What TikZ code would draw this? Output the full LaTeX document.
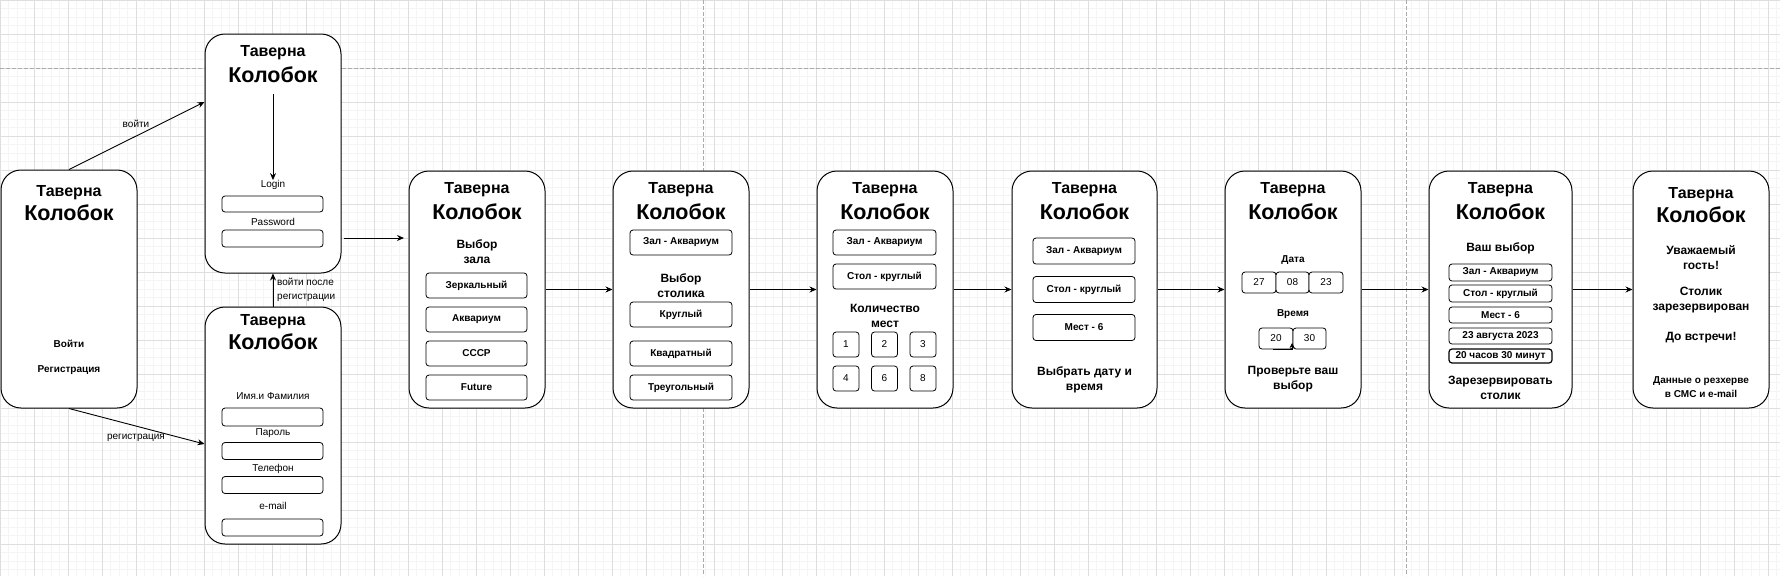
\documentclass[tikz,border=0pt]{standalone}
\usepackage{fontspec}
\setmainfont{Liberation Sans}
\usetikzlibrary{arrows.meta,calc}
\definecolor{gmaj}{HTML}{DEDEDE}
\definecolor{gmin}{HTML}{F4F4F4}
\definecolor{pbrk}{HTML}{ABABAB}
\newcommand{\fs}[2]{\fontsize{#1}{#2}\selectfont}
\tikzset{
  scr/.style={draw, line width=1pt, rounded corners=20, fill=white, minimum width=136, minimum height=237, inner sep=0},
  ttl/.style={font=\fs{16}{18}\bfseries, inner sep=0},
  big/.style={font=\fs{21.5}{24}\bfseries, inner sep=0},
  lbl/.style={font=\fs{10}{14}, inner sep=0, align=center},
  hd/.style={font=\fs{12}{15}\bfseries, inner sep=0, align=center},
  bt/.style={font=\fs{10}{14}\bfseries, inner sep=0, align=center},
  fld/.style={draw, line width=0.8pt, rounded corners=3, fill=white, inner sep=0},
  btn/.style={fld, font=\fs{10}{12}\bfseries},
  num/.style={fld, font=\fs{10}{12}},
  arr/.style={line width=0.9pt, -{Stealth[length=7pt,width=6pt]}},
}
\begin{document}
\begin{tikzpicture}[x=1pt,y=-1pt]
\useasboundingbox (0,0) rectangle (1780,576);
\fill[white] (0,0) rectangle (1780,576);
% grid
\foreach \i in {0,...,210} {\draw[gmin, line width=0.8pt] ({\i*8.5},0) -- ({\i*8.5},576);}
\foreach \j in {0,...,68} {\draw[gmin, line width=0.8pt] (0,{\j*8.5}) -- (1780,{\j*8.5});}
\foreach \i in {0,...,52} {\draw[gmaj, line width=0.8pt] ({\i*34},0) -- ({\i*34},576);}
\foreach \j in {0,...,17} {\draw[gmaj, line width=0.8pt] (0,{\j*34}) -- (1780,{\j*34});}
% page breaks
\draw[pbrk, line width=0.8pt, dash pattern=on 4pt off 2pt] (0,68) -- (1780,68);
\draw[pbrk, line width=0.8pt, dash pattern=on 4pt off 2pt] (703.3,0) -- (703.3,576);
\draw[pbrk, line width=0.8pt, dash pattern=on 4pt off 2pt] (1406.6,0) -- (1406.6,576);

% screens
\node[scr, minimum height=238] (b0) at (69,289) {};
\node[scr, minimum height=239] (b1) at (273,153.5) {};
\node[scr] (b2) at (273,425.5) {};
\node[scr] (b3) at (477,289.5) {};
\node[scr] (b4) at (681,289.5) {};
\node[scr] (b5) at (885,289.5) {};
\node[scr, minimum width=145] (b6) at (1084.5,289.5) {};
\node[scr] (b7) at (1293,289.5) {};
\node[scr, minimum width=143] (b8) at (1500.5,289.5) {};
\node[scr] (b9) at (1701,289.5) {};

% box 0
\node[ttl] (b0t) at (69,193) {Таверна};
\node[big] (b0k) at (69,213) {Колобок};
\node[bt] (b0a) at (69,344) {Войти};
\node[bt] (b0b) at (69,370) {Регистрация};

% box 1 login
\node[ttl] (b1t) at (273,53) {Таверна};
\node[big] (b1k) at (273,75) {Колобок};
\node[lbl] (b1l) at (273,185) {Login};
\node[fld, minimum width=101, minimum height=16] (b1f1) at (272.5,204) {};
\node[lbl] (b1p) at (273,222) {Password};
\node[fld, minimum width=101, minimum height=17] (b1f2) at (272.5,238.5) {};
\coordinate (b1s) at (273,94);
\draw[arr] (b1s) -- (b1l.north);

% box 2 registration
\node[ttl] (b2t) at (273,322) {Таверна};
\node[big] (b2k) at (273,342) {Колобок};
\node[lbl] (b2l1) at (273,396) {Имя.и Фамилия};
\node[fld, minimum width=101, minimum height=18] (b2f1) at (272.5,417) {};
\node[lbl] (b2l2) at (273,433) {Пароль};
\node[fld, minimum width=101, minimum height=17] (b2f2) at (272.5,451) {};
\node[lbl] (b2l3) at (273,469) {Телефон};
\node[fld, minimum width=101, minimum height=17] (b2f3) at (272.5,485) {};
\node[lbl] (b2l4) at (273,506) {e-mail};
\node[fld, minimum width=101, minimum height=17] (b2f4) at (272.5,527.5) {};

% box 3
\node[ttl] (b3t) at (477,190) {Таверна};
\node[big] (b3k) at (477,212) {Колобок};
\node[hd] (b3h) at (477,251.5) {Выбор\\зала};
\node[btn, minimum width=101, minimum height=25] (b3o1) at (476.5,285.5) {Зеркальный};
\node[btn, minimum width=101, minimum height=25] (b3o2) at (476.5,319.5) {Аквариум};
\node[btn, minimum width=101, minimum height=25] (b3o3) at (476.5,353.5) {СССР};
\node[btn, minimum width=101, minimum height=25] (b3o4) at (476.5,387.5) {Future};

% box 4
\node[ttl] (b4t) at (681,190) {Таверна};
\node[big] (b4k) at (681,212) {Колобок};
\node[btn, minimum width=102, minimum height=25] (b4z) at (681,242.5) {Зал - Аквариум};
\node[hd] (b4h) at (681,285.5) {Выбор\\столика};
\node[btn, minimum width=102, minimum height=25] (b4o1) at (681,314.5) {Круглый};
\node[btn, minimum width=102, minimum height=25] (b4o2) at (681,353.5) {Квадратный};
\node[btn, minimum width=102, minimum height=25] (b4o3) at (681,387.5) {Треугольный};

% box 5
\node[ttl] (b5t) at (885,190) {Таверна};
\node[big] (b5k) at (885,212) {Колобок};
\node[btn, minimum width=103, minimum height=25] (b5z) at (884.5,242.5) {Зал - Аквариум};
\node[btn, minimum width=103, minimum height=25] (b5s) at (884.5,276.5) {Стол - круглый};
\node[hd] (b5h) at (885,315.5) {Количество\\мест};
\node[num, minimum width=26, minimum height=25] (n1) at (846,344.5) {1};
\node[num, minimum width=26, minimum height=25] (n2) at (884.5,344.5) {2};
\node[num, minimum width=26, minimum height=25] (n3) at (923,344.5) {3};
\node[num, minimum width=26, minimum height=25] (n4) at (846,378.5) {4};
\node[num, minimum width=26, minimum height=25] (n6) at (884.5,378.5) {6};
\node[num, minimum width=26, minimum height=25] (n8) at (923,378.5) {8};

% box 6
\node[ttl] (b6t) at (1084.5,190) {Таверна};
\node[big] (b6k) at (1084.5,212) {Колобок};
\node[btn, minimum width=102, minimum height=26] (b6z) at (1084,251) {Зал - Аквариум};
\node[btn, minimum width=102, minimum height=26] (b6s) at (1084,289.5) {Стол - круглый};
\node[btn, minimum width=102, minimum height=26] (b6m) at (1084,327.5) {Мест - 6};
\node[hd] (b6h) at (1084.5,379.5) {Выбрать дату и\\время};

% box 7
\node[ttl] (b7t) at (1293,190) {Таверна};
\node[big] (b7k) at (1293,212) {Колобок};
\node[bt] (b7d) at (1293,260) {Дата};
\node[num, minimum width=34, minimum height=21] (d1) at (1259,282.5) {27};
\node[num, minimum width=33, minimum height=21] (d2) at (1292.5,282.5) {08};
\node[num, minimum width=34, minimum height=21] (d3) at (1326,282.5) {23};
\node[bt] (b7v) at (1293,314) {Время};
\node[num, minimum width=34, minimum height=21] (t1) at (1276,338.5) {20};
\node[num, minimum width=33, minimum height=21] (t2) at (1309.5,338.5) {30};
\coordinate (t0) at (1273,349.5);
\draw[line width=1.2pt, -{Stealth[length=5pt,width=5pt]}] (t0) -| ([xshift=-0.5pt]t2.south west |- 0,343);
\node[hd] (b7h) at (1293,379.5) {Проверьте ваш\\выбор};

% box 8
\node[ttl] (b8t) at (1500.5,190) {Таверна};
\node[big] (b8k) at (1500.5,212) {Колобок};
\node[hd] (b8h) at (1500.5,248) {Ваш выбор};
\node[btn, minimum width=103, minimum height=17] (c1) at (1500.5,272.5) {Зал - Аквариум};
\node[btn, minimum width=103, minimum height=17] (c2) at (1500.5,293.5) {Стол - круглый};
\node[btn, minimum width=103, minimum height=16] (c3) at (1500.5,315) {Мест - 6};
\node[btn, minimum width=103, minimum height=16] (c4) at (1500.5,336) {23 августа 2023};
\node[btn, line width=1.2pt, minimum width=103, minimum height=14] (c5) at (1500.5,356) {20 часов 30 минут};
\node[hd] (b8r) at (1500.5,387.5) {Зарезервировать\\столик};

% box 9
\node[ttl] (b9t) at (1701,195) {Таверна};
\node[big] (b9k) at (1701,215) {Колобок};
\node[hd] (b9a) at (1701,258) {Уважаемый\\гость!};
\node[hd] (b9b) at (1701,300.5) {Столик\\зарезервирован};
\node[hd] (b9c) at (1701,338) {До встречи!};
\node[bt] (b9d) at (1701,387) {Данные о резхерве\\в СМС и e-mail};

% connectors
\draw[arr] (b0.north) -- ([yshift=51.5pt]b1.west);
\node[lbl] (lv) at (136,124) {войти};
\draw[arr] (b0.south) -- ([yshift=-18.5pt]b2.west);
\node[lbl] (lr) at (136,438) {регистрация};
\draw[arr] (b2.north) -- (b1.south);
\node[lbl, align=left, anchor=west] (lp) at (277,289.5) {войти после\\регистрации};
\coordinate (a1) at (344,238);
\coordinate (a2) at (404,238);
\draw[arr] (a1) -- (a2);
\draw[arr] (b3.east) -- (b4.west);
\draw[arr] (b4.east) -- (b5.west);
\draw[arr] (b5.east) -- (b6.west);
\draw[arr] (b6.east) -- (b7.west);
\draw[arr] (b7.east) -- (b8.west);
\draw[arr] (b8.east) -- (b9.west);
\end{tikzpicture}
\end{document}
